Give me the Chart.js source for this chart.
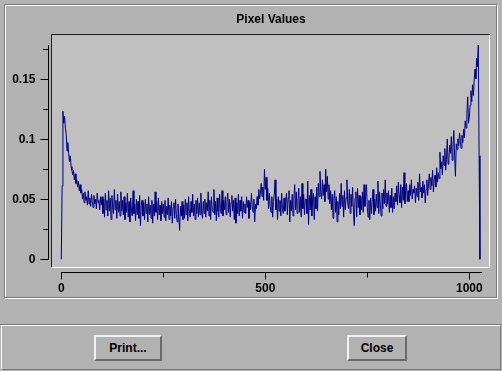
<!DOCTYPE html>
<html>
<head>
<meta charset="utf-8">
<script src="https://cdn.jsdelivr.net/npm/chart.js@4/dist/chart.umd.min.js"></script>
<style>
  body { margin: 0; background: #b2b2b2; width: 502px; height: 371px; overflow: hidden; position: relative; font: bold 12px "Liberation Sans", Arial, sans-serif; }
  .etch { position: absolute; box-sizing: border-box; }
  #etchLight { left: 5px; top: 5px; width: 493px; height: 294px; border: 1px solid #fff; }
  #etchDark { left: 4px; top: 4px; width: 493px; height: 294px; border: 1px solid #7a7a7a; }
  #panel { position: absolute; left: 0; top: 324px; width: 502px; height: 47px; box-sizing: border-box;
           border-top: 1px solid #7a7a7a; }
  #panelIn { position: absolute; left: 1px; top: 325px; width: 500px; height: 45px; box-sizing: border-box;
             border-top: 1px solid #fff; border-left: 1px solid #fff; border-right: 1px solid #7a7a7a; border-bottom: 1px solid #7a7a7a; }
  .btn { position: absolute; top: 335px; height: 26px; box-sizing: border-box; text-align: center; line-height: 22px;
         border-top: 2px solid #f2f2f2; border-left: 2px solid #f2f2f2; border-right: 2px solid #6a6a6a; border-bottom: 2px solid #6a6a6a; color: #000; }
  #print { left: 94px; width: 68px; }
  #close { left: 347px; width: 60px; }
  canvas { position: absolute; left: 0; top: 0; }
</style>
</head>
<body>
<div class="etch" id="etchLight"></div>
<div class="etch" id="etchDark"></div>
<div id="panel"></div>
<div id="panelIn"></div>
<div class="btn" id="print">Print...</div>
<div class="btn" id="close">Close</div>
<canvas id="chart" width="502" height="371"></canvas>
<script>
// Pixel values, one sample every 2 indices (0 .. 1026)
const sampleStep = 2;
const pixelValues = [
  0,.061,.123,.113,.119,.109,.104,.090,.097,.088,.081,.086,.077,.074,.070,.074,.066,.071,.063,.066,.060,.065,.057,.062,.055,
  .058,.050,.055,.047,.056,.049,.052,.045,.057,.046,.051,.044,.054,.048,.043,.053,.046,.050,.042,.055,.047,.049,.041,.052,.045,
  .052,.038,.050,.035,.055,.041,.049,.036,.057,.040,.051,.033,.053,.043,.038,.058,.041,.049,.034,.054,.039,.048,.036,.056,.040,
  .049,.037,.052,.033,.047,.039,.055,.035,.048,.031,.051,.040,.036,.057,.038,.046,.032,.050,.037,.048,.034,.053,.028,.045,.049,
  .036,.047,.033,.050,.038,.046,.031,.052,.037,.045,.034,.049,.030,.046,.036,.056,.039,.048,.033,.051,.037,.045,.032,.048,.038,
  .046,.035,.049,.032,.044,.037,.051,.033,.045,.036,.048,.030,.043,.047,.034,.050,.037,.031,.046,.035,.024,.044,.036,.048,.033,
  .045,.034,.050,.037,.047,.032,.052,.038,.035,.048,.039,.054,.036,.046,.033,.049,.038,.051,.035,.047,.037,.055,.040,.034,.048,
  .038,.050,.035,.047,.040,.056,.036,.049,.033,.052,.041,.039,.058,.037,.048,.032,.051,.040,.035,.054,.042,.038,.057,.036,.049,
  .041,.052,.037,.048,.055,.039,.050,.035,.047,.053,.040,.049,.033,.051,.030,.047,.038,.054,.036,.049,.040,.052,.034,.048,.039,
  .046,.038,.052,.043,.049,.034,.047,.041,.055,.044,.039,.050,.031,.046,.042,.052,.045,.058,.050,.055,.063,.052,.060,.049,.075,
  .058,.068,.049,.059,.042,.055,.044,.039,.052,.035,.048,.054,.066,.041,.050,.033,.052,.040,.049,.036,.055,.042,.038,.051,.040,
  .047,.055,.037,.051,.057,.031,.049,.040,.054,.036,.050,.062,.041,.056,.038,.049,.059,.039,.052,.035,.063,.042,.054,.037,.050,
  .050,.038,.065,.029,.053,.041,.058,.036,.050,.055,.033,.052,.042,.060,.040,.063,.052,.073,.056,.050,.066,.053,.062,.048,.075,
  .056,.069,.050,.062,.046,.057,.041,.054,.034,.050,.057,.039,.052,.031,.048,.037,.055,.042,.063,.044,.053,.035,.057,.041,.051,
  .066,.047,.042,.058,.038,.054,.044,.060,.040,.028,.051,.056,.035,.059,.043,.053,.037,.052,.041,.056,.039,.062,.044,.052,.062,
  .043,.035,.049,.033,.051,.038,.048,.058,.037,.050,.040,.054,.043,.065,.038,.056,.045,.036,.055,.042,.058,.046,.066,.044,.055,
  .046,.057,.039,.053,.043,.059,.039,.052,.042,.055,.048,.061,.045,.064,.053,.047,.062,.043,.060,.049,.072,.046,.057,.063,.048,
  .057,.048,.062,.053,.066,.050,.058,.055,.061,.047,.059,.052,.064,.049,.071,.056,.060,.051,.065,.055,.062,.047,.058,.066,.053,
  .063,.071,.058,.068,.061,.074,.056,.066,.070,.060,.076,.064,.072,.067,.089,.075,.081,.070,.086,.078,.092,.074,.083,.100,.079,
  .084,.095,.088,.102,.082,.093,.107,.086,.069,.096,.091,.100,.094,.105,.098,.092,.103,.097,.108,.101,.115,.109,.121,.135,.113,
  .118,.128,.140,.131,.145,.136,.149,.158,.150,.167,.160,.178,.086,0
];

// Axis ticks and labels
const xTickMajor = [0, 500, 1000];
const xTickLabels = ['0', '500', '1000'];
const xTickMinor = [250, 750];
const xAxisEnd = 1031;
const yTickMajor = [0, 0.05, 0.1, 0.15];
const yTickLabels = ['0', '0.05', '0.1', '0.15'];
const yTickMinor = [0.025, 0.075, 0.125, 0.175];
const yAxisEnd = 0.178;

const fontSpec = 'bold 12px "Liberation Sans", Arial, sans-serif';
Chart.defaults.font.family = '"Liberation Sans", Arial, sans-serif';

// sunken plot area
const plotFrame = {
  id: 'plotFrame',
  beforeDatasetsDraw(chart) {
    const {ctx, chartArea: a} = chart;
    ctx.save();
    ctx.fillStyle = '#c0c0c0';
    ctx.fillRect(a.left, a.top, a.right - a.left, a.bottom - a.top);
    ctx.lineWidth = 1;
    ctx.strokeStyle = '#202020';
    ctx.beginPath();
    ctx.moveTo(Math.round(a.left) - 0.5, Math.round(a.bottom));
    ctx.lineTo(Math.round(a.left) - 0.5, Math.round(a.top) - 0.5);
    ctx.lineTo(Math.round(a.right), Math.round(a.top) - 0.5);
    ctx.stroke();
    ctx.strokeStyle = '#ffffff';
    ctx.beginPath();
    ctx.moveTo(Math.round(a.left), Math.round(a.bottom) + 0.5);
    ctx.lineTo(Math.round(a.right) - 0.5, Math.round(a.bottom) + 0.5);
    ctx.lineTo(Math.round(a.right) - 0.5, Math.round(a.top));
    ctx.stroke();
    ctx.restore();
  }
};

// axes drawn outside the plot area, positioned with the chart's scales
const outerAxes = {
  id: 'outerAxes',
  afterDraw(chart) {
    const ctx = chart.ctx;
    const xs = chart.scales.x, ys = chart.scales.y;
    const a = chart.chartArea;
    ctx.save();
    ctx.strokeStyle = '#000';
    ctx.fillStyle = '#000';
    ctx.lineWidth = 1;
    ctx.font = fontSpec;

    // y axis
    const yx = Math.round(a.left) - 3.5;
    ctx.beginPath();
    ctx.moveTo(yx, Math.round(ys.getPixelForValue(yAxisEnd)));
    ctx.lineTo(yx, Math.round(ys.getPixelForValue(0)) + 1);
    yTickMajor.forEach(v => {
      const py = Math.round(ys.getPixelForValue(v)) + 0.5;
      ctx.moveTo(yx - 8, py); ctx.lineTo(yx, py);
    });
    yTickMinor.forEach(v => {
      const py = Math.round(ys.getPixelForValue(v)) + 0.5;
      ctx.moveTo(yx - 5.5, py); ctx.lineTo(yx, py);
    });
    ctx.stroke();
    ctx.textAlign = 'right';
    ctx.textBaseline = 'middle';
    yTickMajor.forEach((v, i) => ctx.fillText(yTickLabels[i], yx - 13, ys.getPixelForValue(v) + 0.5));

    // x axis
    const xy = Math.round(a.bottom) + 5.5;
    ctx.beginPath();
    ctx.moveTo(Math.round(xs.getPixelForValue(0)), xy);
    ctx.lineTo(Math.round(xs.getPixelForValue(xAxisEnd)), xy);
    xTickMajor.forEach(v => {
      const px = Math.round(xs.getPixelForValue(v)) + 0.5;
      ctx.moveTo(px, xy); ctx.lineTo(px, xy + 7);
    });
    xTickMinor.forEach(v => {
      const px = Math.round(xs.getPixelForValue(v)) + 0.5;
      ctx.moveTo(px, xy); ctx.lineTo(px, xy + 5);
    });
    ctx.stroke();
    ctx.textAlign = 'center';
    ctx.textBaseline = 'middle';
    xTickMajor.forEach((v, i) => ctx.fillText(xTickLabels[i], xs.getPixelForValue(v), xy + 16));
    ctx.restore();
  }
};

const points = pixelValues.map((v, i) => ({x: i * sampleStep, y: v}));

new Chart(document.getElementById('chart').getContext('2d'), {
  type: 'line',
  data: {
    datasets: [{
      data: points,
      borderColor: '#000080',
      borderWidth: 1,
      pointRadius: 0,
      tension: 0,
      fill: false
    }]
  },
  options: {
    responsive: false,
    animation: false,
    events: [],
    layout: {padding: {left: 52, right: 12, top: 5, bottom: 104}},
    plugins: {
      legend: {display: false},
      tooltip: {enabled: false},
      title: {
        display: true,
        text: 'Pixel Values',
        color: '#000',
        font: {size: 12, weight: 'bold'},
        padding: {top: 7, bottom: 9}
      }
    },
    scales: {
      x: {type: 'linear', display: false, min: -22.8, max: 1050.7},
      y: {display: false, min: -0.0064, max: 0.186}
    }
  },
  plugins: [plotFrame, outerAxes]
});
</script>
</body>
</html>
